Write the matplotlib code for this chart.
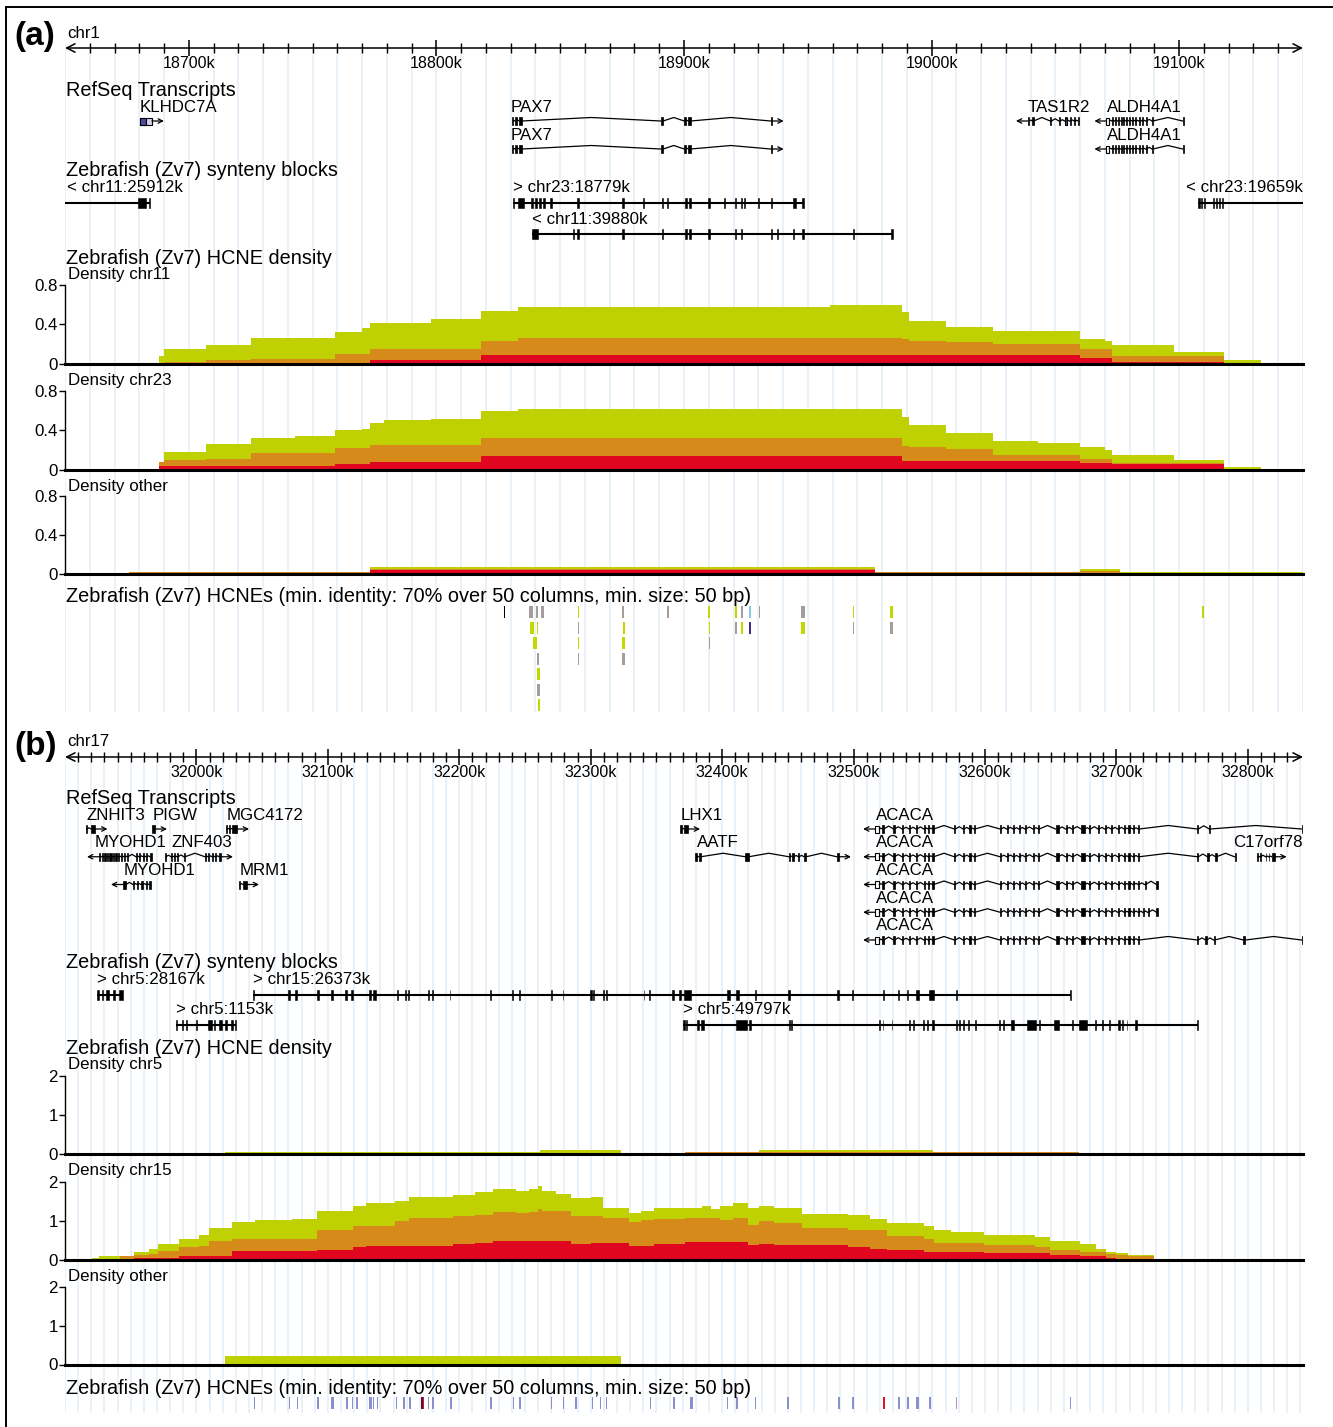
import numpy as np
import matplotlib
matplotlib.use("Agg")
import matplotlib.pyplot as plt
from matplotlib.patches import Rectangle
from matplotlib.lines import Line2D

plt.rcParams['font.family'] = ['Liberation Sans', 'DejaVu Sans']

# ============================ DATA ============================
# ---------------- panel (a): human chr1 ----------------
a_chrom = "chr1"
a_range = [18650, 19150]                     # kb
a_major_ticks = [18700, 18800, 18900, 19000, 19100]

pax7_exons = [(18830.4, 18831.1), (18831.7, 18832.4), (18833.5, 18834.5), (18890.6, 18891.6),
              (18900.1, 18900.7), (18901.7, 18902.7), (18935.0, 18935.4)]
tas1r2_exons = [(19038.9, 19039.4), (19040.7, 19041.2), (19047.9, 19048.4), (19051.4, 19051.9),
                (19053.7, 19054.7), (19055.7, 19056.2), (19057.6, 19058.1), (19059.1, 19059.6)]
aldh4a1_exons = [(19070.6, 19071.8), (19072.8, 19073.2), (19074.0, 19074.4), (19075.2, 19075.6),
                 (19076.3, 19076.7), (19077.4, 19077.8), (19078.6, 19079.0), (19079.8, 19080.3),
                 (19081.0, 19081.4), (19082.3, 19082.7), (19083.6, 19084.0), (19085.0, 19085.4),
                 (19086.4, 19086.8), (19089.0, 19089.4), (19101.4, 19102.0)]
a_gene_names = ["KLHDC7A", "PAX7", "TAS1R2", "ALDH4A1", "PAX7", "ALDH4A1"]
a_gene_strands = ["+", "+", "-", "-", "+", "-"]
a_gene_rows = [0, 0, 0, 0, 1, 1]
a_gene_label_kb = [18680.3, 18830.1, 19038.9, 19070.8, 18830.1, 19070.8]
a_gene_exons = [[(18680.3, 18685.1)], pax7_exons, tas1r2_exons, aldh4a1_exons, pax7_exons, aldh4a1_exons]
a_gene_utr = [[0], [], [], [0], [], [0]]
a_gene_cds = [(18680.3, 18682.7), None, (19053.7, 19054.7), None, None, None]

a_syn_labels = ["< chr11:25912k", "> chr23:18779k", "< chr11:39880k", "< chr23:19659k"]
a_syn_rows = [0, 0, 1, 0]
a_syn_span = [(18630.0, 18684.3), (18830.8, 18948.5), (18838.5, 18984.3), (19107.6, 19170.0)]
a_syn_bar_start = [
    [18679.6, 18683.8],
    [18830.8, 18833.1, 18838.2, 18839.8, 18841.6, 18843.2, 18845.9, 18856.9, 18875.1, 18883.6,
     18891.0, 18893.0, 18900.4, 18902.0, 18909.8, 18916.3, 18920.6, 18922.9, 18924.2, 18930.0,
     18935.0, 18944.1, 18947.5],
    [18838.5, 18855.0, 18856.9, 18875.1, 18891.0, 18900.4, 18902.0, 18909.8, 18920.6, 18922.9,
     18935.1, 18937.4, 18943.9, 18947.5, 18968.1, 18983.5],
    [19107.6, 19108.8, 19110.0, 19113.5, 19114.7, 19115.9, 19117.1]]
a_syn_bar_len = [
    [3.1, 0.5],
    [0.5, 2.3, 0.7, 0.7, 0.6, 0.5, 0.7, 0.8, 0.8, 0.4, 0.65, 0.4, 0.7, 0.7, 0.7, 0.4, 0.4, 0.5,
     0.5, 0.4, 0.4, 1.0, 1.0],
    [2.7, 0.4, 0.8, 0.8, 0.65, 0.7, 0.7, 0.7, 0.4, 0.5, 0.4, 0.4, 0.5, 1.0, 0.4, 0.8],
    [0.6, 0.5, 0.6, 0.6, 0.5, 0.5, 0.6]]

# HCNE density (window edges in kb; values per window)
a_dens_edges = [18650, 18676, 18688, 18690, 18707, 18725, 18743, 18759, 18770, 18773, 18779,
                18798, 18818, 18833, 18959, 18977, 18988, 18991, 19006, 19025, 19043, 19060,
                19070, 19073, 19076, 19098, 19118, 19133, 19150]
a_chr11_green = [0, 0, 0.08, 0.15, 0.19, 0.26, 0.26, 0.325, 0.36, 0.41, 0.41, 0.45, 0.53, 0.58,
                 0.595, 0.595, 0.52, 0.436, 0.374, 0.33, 0.33, 0.246, 0.23, 0.184, 0.184, 0.114,
                 0.038, 0.005]
a_chr11_orange = [0, 0, 0.01, 0.02, 0.04, 0.05, 0.05, 0.10, 0.10, 0.15, 0.15, 0.15, 0.23, 0.26,
                  0.26, 0.26, 0.245, 0.23, 0.22, 0.197, 0.197, 0.15, 0.15, 0.08, 0.08, 0.08,
                  0.01, 0.003]
a_chr11_red = [0, 0, 0, 0, 0, 0, 0, 0.01, 0.01, 0.04, 0.04, 0.04, 0.086, 0.086, 0.086, 0.086,
               0.086, 0.086, 0.086, 0.086, 0.086, 0.055, 0.055, 0.02, 0.02, 0.02, 0, 0]
a_chr23_green = [0, 0, 0.074, 0.18, 0.26, 0.32, 0.34, 0.40, 0.415, 0.47, 0.50, 0.51, 0.60, 0.62,
                 0.62, 0.62, 0.53, 0.45, 0.37, 0.29, 0.27, 0.23, 0.20, 0.15, 0.15, 0.10, 0.027, 0]
a_chr23_orange = [0, 0, 0.074, 0.095, 0.105, 0.165, 0.165, 0.216, 0.216, 0.247, 0.247, 0.247,
                  0.32, 0.32, 0.32, 0.32, 0.24, 0.23, 0.21, 0.15, 0.15, 0.105, 0.105, 0.07, 0.07,
                  0.07, 0, 0]
a_chr23_red = [0, 0, 0.04, 0.04, 0.04, 0.04, 0.04, 0.06, 0.06, 0.074, 0.074, 0.074, 0.135, 0.135,
               0.135, 0.135, 0.09, 0.09, 0.09, 0.09, 0.09, 0.07, 0.07, 0.057, 0.057, 0.057, 0, 0]
a_other_green = [0.003, 0.024, 0.024, 0.024, 0.024, 0.024, 0.024, 0.024, 0.024, 0.07, 0.07, 0.07,
                 0.07, 0.07, 0.07, 0.024, 0.024, 0.024, 0.024, 0.024, 0.024, 0.05, 0.05, 0.05,
                 0.02, 0.02, 0.02, 0.02]
a_other_orange = [0, 0.024, 0.024, 0.024, 0.024, 0.024, 0.024, 0.024, 0.024, 0.054, 0.054, 0.054,
                  0.054, 0.054, 0.054, 0.024, 0.024, 0.024, 0.024, 0.024, 0.024, 0.03, 0.03, 0.03,
                  0.005, 0.005, 0.005, 0.005]
a_other_red = [0, 0.014, 0.014, 0.014, 0.014, 0.014, 0.014, 0.014, 0.014, 0.037, 0.037, 0.037,
               0.037, 0.037, 0.037, 0.01, 0.01, 0.01, 0.01, 0.01, 0.01, 0.015, 0.015, 0.015,
               0, 0, 0, 0]
a_dens_ticks = [0, 0.4, 0.8]
a_dens_ticklabels = ["0", "0.4", "0.8"]

# HCNEs: midpoint kb, length kb, stacking row, colour class
a_hcne_mid = [18827.5, 18838.3, 18840.7, 18842.8, 18857.3, 18875.4, 18893.6, 18909.9, 18921.0,
              18923.5, 18926.6, 18930.5, 18948.1, 18968.4, 18983.9, 19109.7,
              18838.7, 18840.8, 18857.3, 18875.7, 18910.4, 18921.0, 18923.5, 18926.6, 18948.1,
              18968.4, 18983.9,
              18839.8, 18857.3, 18875.7, 18910.4,
              18841.0, 18857.3, 18875.7,
              18841.3, 18841.3, 18841.5]
a_hcne_len = [0.6, 1.4, 0.6, 1.4, 0.6, 0.6, 0.6, 0.8, 0.8, 0.6, 0.8, 0.6, 1.4, 0.6, 1.2, 0.6,
              1.4, 0.6, 0.6, 0.6, 0.6, 0.6, 0.6, 0.6, 1.4, 0.6, 1.2,
              1.4, 0.6, 1.2, 0.6,
              0.6, 0.6, 1.2,
              1.2, 1.2, 0.6]
a_hcne_row = [0] * 16 + [1] * 11 + [2] * 4 + [3] * 3 + [4, 5, 6]
a_hcne_col = ['k', 'y', 'y', 'y', 'g', 'y', 'y', 'g', 'g', 'y', 'c', 'y', 'y', 'g', 'g', 'g',
              'g', 'g', 'y', 'g', 'g', 'y', 'g', 'p', 'g', 'y', 'y',
              'g', 'g', 'g', 'y',
              'y', 'y', 'y',
              'g', 'y', 'g']

# ---------------- panel (b): human chr17 ----------------
b_chrom = "chr17"
b_range = [31900, 32842]
b_major_ticks = [32000, 32100, 32200, 32300, 32400, 32500, 32600, 32700, 32800]

acaca_core = [(32516.4, 32519.7), (32522.0, 32523.0), (32530.4, 32531.2), (32536.9, 32537.7),
              (32542.2, 32543.0), (32547.5, 32548.3), (32553.5, 32554.3), (32556.8, 32557.6),
              (32560.0, 32561.0), (32576.7, 32577.5), (32583.3, 32584.1), (32588.2, 32589.0),
              (32591.6, 32592.4), (32611.5, 32612.3), (32616.4, 32617.2), (32621.5, 32622.3),
              (32625.7, 32626.5), (32630.4, 32631.2), (32636.4, 32637.2), (32640.6, 32641.4),
              (32653.7, 32656.0), (32661.3, 32662.1), (32666.2, 32667.0), (32673.1, 32676.1),
              (32679.5, 32680.3), (32686.1, 32686.9), (32691.0, 32691.8), (32696.0, 32696.8),
              (32701.0, 32701.8), (32705.9, 32706.7), (32709.2, 32710.0), (32712.6, 32713.4),
              (32716.5, 32717.3)]
acaca_tails = [[(32761.6, 32762.4), (32770.6, 32771.4), (32840.9, 32841.7)],
               [(32761.6, 32762.4), (32769.3, 32770.1), (32775.4, 32776.2), (32789.9, 32790.7)],
               [(32721.4, 32722.2), (32730.5, 32731.3)],
               [(32719.9, 32720.7), (32723.7, 32724.5), (32730.5, 32731.3)],
               [(32761.6, 32762.4), (32767.8, 32768.6), (32773.9, 32774.7), (32796.7, 32798.2),
                (32840.9, 32841.7)]]
myohd1_exons = [(31925.9, 31926.6), (31927.8, 31928.9), (31929.7, 31931.2), (31932.0, 31932.7),
                (31933.5, 31935.8), (31936.5, 31937.3), (31938.0, 31939.6), (31940.3, 31941.1),
                (31942.6, 31943.4), (31944.9, 31945.7), (31947.2, 31947.9), (31954.0, 31954.8),
                (31956.3, 31957.1), (31959.4, 31960.1), (31961.6, 31962.4), (31964.7, 31966.2)]
myohd1b_exons = [(31944.1, 31946.4), (31951.7, 31952.5), (31954.8, 31955.5), (31957.8, 31959.4),
                 (31961.6, 31962.4), (31963.9, 31965.4)]
znf403_exons = [(31976.1, 31976.8), (31980.7, 31981.4), (31982.9, 31983.7), (31985.2, 31986.0),
                (31990.5, 31991.3), (32006.5, 32007.3), (32008.8, 32009.6), (32011.9, 32012.6),
                (32014.1, 32014.9), (32017.2, 32018.7)]
aatf_exons = [(32379.5, 32381.1), (32382.1, 32383.8), (32417.6, 32420.2), (32450.8, 32451.7),
              (32453.4, 32454.7), (32458.0, 32458.7), (32462.3, 32464.0), (32487.2, 32488.9)]
b_gene_names = ["ZNHIT3", "PIGW", "MGC4172", "LHX1", "ACACA",
                "MYOHD1", "ZNF403", "AATF", "ACACA", "C17orf78",
                "MYOHD1", "MRM1", "ACACA", "ACACA", "ACACA"]
b_gene_strands = ["+", "+", "+", "+", "-", "-", "+", "+", "-", "+", "-", "+", "-", "-", "-"]
b_gene_rows = [0, 0, 0, 0, 0, 1, 1, 1, 1, 1, 2, 2, 2, 3, 4]
b_gene_label_kb = [31916.7, 31967.0, 32023.3, 32368.7, 32517.1,
                   31922.8, 31981.4, 32380.9, 32517.1, 32807.1,
                   31944.9, 32033.2, 32517.1, 32517.1, 32517.1]
b_gene_exons = [[(31916.0, 31916.8), (31919.8, 31923.2)],
                [(31966.2, 31968.5)],
                [(32022.5, 32023.3), (32024.8, 32025.6), (32027.1, 32030.9)],
                [(32368.0, 32369.5), (32371.0, 32374.1)],
                acaca_core + acaca_tails[0],
                myohd1_exons, znf403_exons, aatf_exons,
                acaca_core + acaca_tails[1],
                [(32807.1, 32807.8), (32809.0, 32809.7), (32813.5, 32814.2), (32815.8, 32816.5),
                 (32818.1, 32820.4)],
                myohd1b_exons,
                [(32032.4, 32033.2), (32035.4, 32038.5)],
                acaca_core + acaca_tails[2],
                acaca_core + acaca_tails[3],
                acaca_core + acaca_tails[4]]
b_gene_utr = [[], [], [], [], [0], [], [], [], [0], [], [], [], [0], [0], [0]]
b_gene_cds = [None] * 15

b_syn_labels = ["> chr5:28167k", "> chr15:26373k", "> chr5:1153k", "> chr5:49797k"]
b_syn_rows = [0, 0, 1, 1]
b_syn_span = [(31924.2, 31944.1), (32043.1, 32665.4), (31984.4, 32030.0), (32370.0, 32761.9)]
b_syn_bar_start = [
    [31924.2, 31928.0, 31931.5, 31936.8, 31941.4],
    [32043.1, 32069.6, 32075.3, 32091.8, 32102.7, 32113.2, 32117.7, 32131.2, 32134.6, 32152.3,
     32158.8, 32160.9, 32176.0, 32179.3, 32192.6, 32223.5, 32240.1, 32245.5, 32269.6, 32278.6,
     32299.7, 32301.8, 32309.3, 32311.7, 32340.3, 32344.5, 32361.8, 32367.2, 32371.3, 32404.0,
     32410.7, 32424.9, 32450.2, 32487.4, 32499.1, 32522.8, 32533.9, 32540.6, 32547.9, 32557.5,
     32577.9, 32664.8],
    [31984.4, 31988.9, 31992.0, 31999.5, 32008.5, 32013.0, 32017.5, 32022.0, 32026.5, 32029.0],
    [32370.0, 32372.7, 32380.8, 32384.3, 32410.7, 32420.3, 32450.7, 32452.3, 32519.4, 32522.2,
     32528.9, 32542.5, 32545.3, 32552.9, 32556.2, 32559.4, 32577.9, 32580.1, 32583.3, 32587.4,
     32592.8, 32610.5, 32614.0, 32620.0, 32632.3, 32641.2, 32652.6, 32666.2, 32671.6, 32683.9,
     32689.3, 32694.2, 32701.5, 32704.2, 32707.8, 32713.8, 32761.3]]
b_syn_bar_len = [
    [1.5, 1.1, 1.9, 1.5, 2.7],
    [0.5, 1.4, 1.5, 1.7, 1.5, 1.4, 1.2, 1.6, 1.8, 1.4, 1.0, 1.0, 0.6, 0.6, 0.6, 0.6, 0.6, 0.6,
     0.6, 0.6, 1.0, 0.8, 1.0, 0.8, 0.6, 0.6, 1.3, 1.3, 5.4, 1.9, 1.9, 0.6, 1.4, 1.4, 0.6, 0.6,
     0.6, 0.6, 2.2, 3.6, 0.6, 0.6],
    [1.0, 1.0, 1.0, 0.6, 3.0, 1.4, 2.1, 1.5, 1.2, 1.0],
    [1.4, 0.8, 1.4, 1.9, 8.1, 1.4, 0.6, 0.6, 0.6, 0.6, 0.6, 0.6, 0.6, 0.6, 0.6, 2.2, 0.6, 0.6,
     0.6, 0.6, 0.6, 0.6, 0.6, 1.9, 6.8, 0.6, 4.1, 0.6, 6.3, 0.6, 0.6, 0.6, 1.2, 1.2, 0.6, 2.2,
     0.6]]

b_chr5_edges = [31900, 32022.0, 32261.4, 32322.7, 32371.8, 32428.1, 32560.5, 32671.6, 32727.9, 32842]
b_chr5_green = [0, 0.04, 0.10, 0.015, 0.04, 0.10, 0.04, 0.015, 0]
b_chr5_orange = [0, 0.005, 0.005, 0.005, 0.03, 0.04, 0.035, 0.005, 0]
b_chr5_red = [0, 0, 0, 0, 0.02, 0.02, 0.025, 0, 0]
b_chr15_edges = [31900, 31920.2, 31925.9, 31942.2, 31952.5, 31963.7, 31971.1, 31986.4, 32001.7,
                 32009.6, 32027.1, 32044.2, 32073.0, 32091.7, 32118.9, 32129.0, 32151.1, 32161.4,
                 32195.2, 32212.3, 32225.9, 32242.9, 32253.1, 32259.9, 32263.3, 32273.4, 32285.3,
                 32300.6, 32309.1, 32329.5, 32338.0, 32348.2, 32371.6, 32384.9, 32391.5, 32398.2,
                 32408.1, 32419.7, 32428.0, 32439.5, 32461.1, 32495.9, 32512.5, 32525.8, 32553.9,
                 32561.2, 32573.8, 32599.6, 32638.4, 32649.3, 32672.2, 32684.8, 32692.1, 32699.7,
                 32708.7, 32728.5, 32814.1, 32842]
b_chr15_green = [0.025, 0.05, 0.09, 0.09, 0.2, 0.28, 0.39, 0.54, 0.63, 0.81,
                 0.97, 1.03, 1.04, 1.25, 1.39, 1.45, 1.51, 1.62, 1.66, 1.74,
                 1.82, 1.78, 1.82, 1.89, 1.78, 1.69, 1.58, 1.61, 1.34, 1.20,
                 1.26, 1.33, 1.33, 1.38, 1.30, 1.38, 1.45, 1.33, 1.38, 1.33,
                 1.18, 1.14, 1.05, 0.94, 0.86, 0.75, 0.71, 0.63, 0.59, 0.47,
                 0.39, 0.28, 0.20, 0.18, 0.11, 0.015, 0]
b_chr15_orange = [0.01, 0.025, 0.025, 0.09, 0.11, 0.15, 0.22, 0.31, 0.35, 0.48,
                  0.54, 0.54, 0.54, 0.75, 0.86, 0.86, 0.99, 1.07, 1.11, 1.16,
                  1.22, 1.20, 1.22, 1.30, 1.26, 1.26, 1.11, 1.13, 1.07, 0.96,
                  1.03, 1.04, 1.07, 1.07, 1.07, 1.03, 1.06, 0.90, 0.99, 0.94,
                  0.82, 0.76, 0.75, 0.60, 0.54, 0.43, 0.43, 0.37, 0.31, 0.24,
                  0.20, 0.20, 0.14, 0.11, 0.08, 0.01, 0]
b_chr15_red = [0.005, 0.005, 0.005, 0.025, 0.03, 0.03, 0.03, 0.085, 0.085, 0.085,
               0.21, 0.21, 0.21, 0.25, 0.33, 0.35, 0.35, 0.35, 0.40, 0.43,
               0.48, 0.48, 0.48, 0.48, 0.48, 0.48, 0.39, 0.43, 0.43, 0.35,
               0.35, 0.39, 0.45, 0.45, 0.45, 0.45, 0.45, 0.37, 0.39, 0.37,
               0.37, 0.32, 0.28, 0.24, 0.20, 0.20, 0.20, 0.17, 0.17, 0.12,
               0.08, 0.08, 0.034, 0.025, 0.025, 0.0, 0]
b_other_edges = [31900, 31925.9, 32022.0, 32322.7, 32842]
b_other_green = [0, 0.012, 0.21, 0.005]
b_other_orange = [0, 0.006, 0, 0]
b_other_red = [0, 0, 0, 0]
b_dens_ticks = [0, 1, 2]
b_dens_ticklabels = ["0", "1", "2"]

b_hcne_mid = [32044.2, 32070.7, 32077.1, 32092.4, 32103.2, 32114.5, 32118.9, 32122.3, 32132.5,
              32134.7, 32137.6, 32152.2, 32158.0, 32162.4, 32171.6, 32172.8, 32176.7, 32180.0,
              32193.6, 32224.2, 32241.2, 32246.3, 32270.0, 32279.2, 32288.7, 32301.3, 32307.4,
              32311.9, 32345.4, 32363.5, 32376.6, 32404.1, 32411.3, 32425.6, 32450.1, 32488.9,
              32499.6, 32523.1, 32534.6, 32541.4, 32549.0, 32558.2, 32578.4, 32665.2]
b_hcne_len = [1.1, 1.1, 1.1, 1.1, 2.3, 1.1, 1.1, 1.1, 1.8, 1.1, 1.1, 1.1, 1.1, 1.1, 1.0, 1.3,
              1.1, 1.1, 1.1, 1.1, 1.1, 1.1, 1.1, 1.1, 1.1, 1.1, 1.1, 1.1, 1.1, 1.1, 2.3, 1.1,
              1.1, 1.1, 1.1, 1.1, 1.1, 1.3, 1.1, 1.1, 2.3, 1.1, 1.1, 1.1]
b_hcne_row = [0] * 44
b_hcne_col = ['b'] * 14 + ['d', 'r'] + ['b'] * 21 + ['r'] + ['b'] * 4 + ['m', 'b']

track_titles = ["RefSeq Transcripts", "Zebrafish (Zv7) synteny blocks",
                "Zebrafish (Zv7) HCNE density",
                "Zebrafish (Zv7) HCNEs (min. identity: 70% over 50 columns, min. size: 50 bp)"]

# ============================ STYLE ============================
GREEN = "#BFD102"
ORANGE = "#D68A1A"
RED = "#E1061F"
GRID = "#EAF2F9"
HCNE_COLORS = {'g': '#C3D800', 'y': '#A39D9D', 'c': '#86CDE6', 'p': '#3D2E8E', 'k': '#000000',
               'b': '#8990CD', 'r': '#E4102C', 'd': '#4A1838', 'm': '#B592BE'}
W, H = 1333, 1427
PL, PR = 65, 1303
TITLE_FS = 14.3
LAB_FS = 12.2

fig = plt.figure(figsize=(W / 100, H / 100), dpi=100)
fig.patch.set_facecolor('white')


def add_px_axes(x0, y0, x1, y1, **kw):
    return fig.add_axes([x0 / W, 1 - y1 / H, (x1 - x0) / W, (y1 - y0) / H], **kw)


def ftext(x, y, s, **kw):
    return fig.text(x / W, 1 - y / H, s, **kw)


# frame
fig.add_artist(Line2D([6 / W, 6 / W], [0, 1 - 7 / H], transform=fig.transFigure, color='k', lw=1.4))
fig.add_artist(Line2D([6 / W, 1], [1 - 7 / H, 1 - 7 / H], transform=fig.transFigure, color='k', lw=1.4))


def grid_axes(rng, y0, y1):
    ax = add_px_axes(PL, y0, PR, y1)
    ax.set_xlim(rng)
    ax.set_ylim(0, 1)
    ax.axis('off')
    for v in np.arange(rng[0], rng[1] + 0.1, 10):
        ax.axvline(v, color=GRID, lw=1.4)
    return ax


def ruler(rng, majors, line_y, chrom):
    ax = add_px_axes(PL, line_y - 12, PR, line_y + 12)
    ax.set_xlim(rng)
    ax.set_ylim(-1, 1)
    ax.patch.set_visible(False)
    for sp in ax.spines.values():
        sp.set_visible(False)
    ax.spines['bottom'].set_position(('data', 0))
    ax.set_yticks([])
    ax.set_xticks(majors)
    ax.set_xticklabels([f"{m}k" for m in majors])
    ax.set_xticks(np.arange(rng[0] + 10, rng[1] - 5, 10), minor=True)
    ax.tick_params(axis='x', which='major', direction='inout', length=11, width=1.1,
                   labelsize=11.5, pad=0.5)
    ax.tick_params(axis='x', which='minor', direction='inout', length=7, width=1.0)
    ax.annotate('', xy=(rng[1], 0), xytext=(rng[0], 0),
                arrowprops=dict(arrowstyle='<->', lw=1.1, color='k', shrinkA=0, shrinkB=0,
                                mutation_scale=15))
    ftext(67, line_y - 15, chrom, fontsize=LAB_FS, va='center', ha='left')


def layout_axes(rng, y0, y1):
    ax = add_px_axes(PL, y0, PR, y1)
    ax.set_xlim(rng)
    ax.set_ylim(y1, y0)
    ax.axis('off')
    return ax


def place_label(ax, rng, x, y, text):
    renderer = fig.canvas.get_renderer()
    kbpx = (rng[1] - rng[0]) / (PR - PL)
    x = max(x, rng[0] + 2 * kbpx)
    t = ax.text(x, y, text, fontsize=LAB_FS, va='center', ha='left', clip_on=False)
    bb = t.get_window_extent(renderer)
    right = ax.transData.transform((rng[1], 0))[0]
    if bb.x1 > right:
        t.set_x(rng[1])
        t.set_ha('right')
    return t


def draw_gene(ax, rng, exons, strand, y, utr, cds):
    kbpx = (rng[1] - rng[0]) / (PR - PL)
    for (s0, e0), (s1, e1) in zip(exons[:-1], exons[1:]):
        gap_px = (s1 - e0) / kbpx
        h = min(3.5, 0.3 * gap_px)
        ax.plot([e0, (e0 + s1) / 2, s1], [y, y - h, y], color='k', lw=0.9)
    for i, (s, e) in enumerate(exons):
        if i in utr:
            fc = '#D6D2E6' if cds is not None else 'white'
            ax.add_patch(Rectangle((s, y - 3.5), e - s, 7, fc=fc, ec='k', lw=0.8))
        else:
            ax.add_patch(Rectangle((s, y - 4), e - s, 8, fc='k', ec='k', lw=0.5))
    if cds is not None:
        ax.add_patch(Rectangle((cds[0], y - 3.5), cds[1] - cds[0], 7, fc='#4B4A9C', ec='k', lw=0.8))
    L = 12 * kbpx
    if strand == '+':
        a, b = exons[-1][1], exons[-1][1] + L
    else:
        a, b = exons[0][0], exons[0][0] - L
    ax.annotate('', xy=(b, y), xytext=(a, y),
                arrowprops=dict(arrowstyle='->', lw=0.9, color='k', shrinkA=0, shrinkB=0,
                                mutation_scale=8))


def draw_block(ax, span, starts, lens, y):
    ax.plot(span, [y, y], color='k', lw=1.5, solid_capstyle='butt')
    for s, l in zip(starts, lens):
        ax.add_patch(Rectangle((s, y - 5), l, 10, fc='k', ec='k', lw=0.4))


def density(rng, zero_y, ref_y, ref_val, top_y, edges, g, o, r, ticks, labels, name, lab_y):
    ax = add_px_axes(PL, top_y, PR, zero_y)
    ppu = (zero_y - ref_y) / ref_val
    ax.set_xlim(rng)
    ax.set_ylim(0, (zero_y - top_y) / ppu)
    ax.patch.set_visible(False)
    e = np.asarray(edges, float)
    for vals, col in ((g, GREEN), (o, ORANGE), (r, RED)):
        v = np.asarray(vals, float)
        ax.fill_between(e, np.append(v, v[-1]), step='post', color=col, lw=0)
    ax.spines['top'].set_visible(False)
    ax.spines['right'].set_visible(False)
    ax.spines['left'].set_bounds(0, ref_val)
    ax.spines['left'].set_linewidth(1.0)
    ax.spines['bottom'].set_linewidth(2.2)
    ax.set_xticks([])
    ax.set_yticks(ticks)
    ax.set_yticklabels(labels)
    ax.tick_params(axis='y', length=4, width=1, labelsize=LAB_FS, pad=1)
    ftext(68, lab_y, name, fontsize=LAB_FS, va='center', ha='left')


def hcnes(ax, mids, lens, rows, cols, y0, dy):
    for m, l, r, c in zip(mids, lens, rows, cols):
        y = y0 + dy * r
        ax.add_patch(Rectangle((m - l / 2, y - 6), l, 12, fc=HCNE_COLORS[c], ec='none'))


# ============================ PANEL (a) ============================
grid_axes(a_range, 44, 712)
ruler(a_range, a_major_ticks, 48, a_chrom)
ftext(14, 36, "(a)", fontsize=24, fontweight='bold', va='center', ha='left')
lay = layout_axes(a_range, 0, 720)
ftext(66, 91, track_titles[0], fontsize=TITLE_FS, va='center')
for name, st, row, lk, ex, utr, cds in zip(a_gene_names, a_gene_strands, a_gene_rows,
                                          a_gene_label_kb, a_gene_exons, a_gene_utr, a_gene_cds):
    y = 121 + 28 * row
    draw_gene(lay, a_range, ex, st, y, utr, cds)
    place_label(lay, a_range, lk, y - 14, name)
ftext(66, 171, track_titles[1], fontsize=TITLE_FS, va='center')
for lab, row, span, bs, bl in zip(a_syn_labels, a_syn_rows, a_syn_span, a_syn_bar_start, a_syn_bar_len):
    y = 203 + 31 * row
    draw_block(lay, span, bs, bl, y)
    place_label(lay, a_range, span[0], y - 15, lab)
ftext(66, 258, track_titles[2], fontsize=TITLE_FS, va='center')
density(a_range, 363.5, 285, 0.8, 268, a_dens_edges, a_chr11_green, a_chr11_orange, a_chr11_red,
        a_dens_ticks, a_dens_ticklabels, "Density chr11", 274)
density(a_range, 469.5, 391, 0.8, 374, a_dens_edges, a_chr23_green, a_chr23_orange, a_chr23_red,
        a_dens_ticks, a_dens_ticklabels, "Density chr23", 380)
density(a_range, 574, 496, 0.8, 480, a_dens_edges, a_other_green, a_other_orange, a_other_red,
        a_dens_ticks, a_dens_ticklabels, "Density other", 486)
ftext(66, 597, track_titles[3], fontsize=TITLE_FS, va='center')
hcnes(lay, a_hcne_mid, a_hcne_len, a_hcne_row, a_hcne_col, 612, 15.5)

# ============================ PANEL (b) ============================
grid_axes(b_range, 753, 1413)
ruler(b_range, b_major_ticks, 757, b_chrom)
ftext(14, 746, "(b)", fontsize=24, fontweight='bold', va='center', ha='left')
layb = layout_axes(b_range, 720, 1427)
ftext(66, 799, track_titles[0], fontsize=TITLE_FS, va='center')
for name, st, row, lk, ex, utr, cds in zip(b_gene_names, b_gene_strands, b_gene_rows,
                                          b_gene_label_kb, b_gene_exons, b_gene_utr, b_gene_cds):
    y = 829 + 27.75 * row
    draw_gene(layb, b_range, ex, st, y, utr, cds)
    place_label(layb, b_range, lk, y - 14, name)
ftext(66, 962, track_titles[1], fontsize=TITLE_FS, va='center')
for lab, row, span, bs, bl in zip(b_syn_labels, b_syn_rows, b_syn_span, b_syn_bar_start, b_syn_bar_len):
    y = 995 + 30 * row
    draw_block(layb, span, bs, bl, y)
    place_label(layb, b_range, span[0], y - 15.5, lab)
ftext(66, 1049, track_titles[2], fontsize=TITLE_FS, va='center')
density(b_range, 1153.5, 1076, 2, 1060, b_chr5_edges, b_chr5_green, b_chr5_orange, b_chr5_red,
        b_dens_ticks, b_dens_ticklabels, "Density chr5", 1065)
density(b_range, 1259.5, 1182, 2, 1166, b_chr15_edges, b_chr15_green, b_chr15_orange, b_chr15_red,
        b_dens_ticks, b_dens_ticklabels, "Density chr15", 1171)
density(b_range, 1364.5, 1287, 2, 1271, b_other_edges, b_other_green, b_other_orange, b_other_red,
        b_dens_ticks, b_dens_ticklabels, "Density other", 1276)
ftext(66, 1388, track_titles[3], fontsize=TITLE_FS, va='center')
hcnes(layb, b_hcne_mid, b_hcne_len, b_hcne_row, b_hcne_col, 1403, 15.5)

fig.savefig("out.png", dpi=100)
